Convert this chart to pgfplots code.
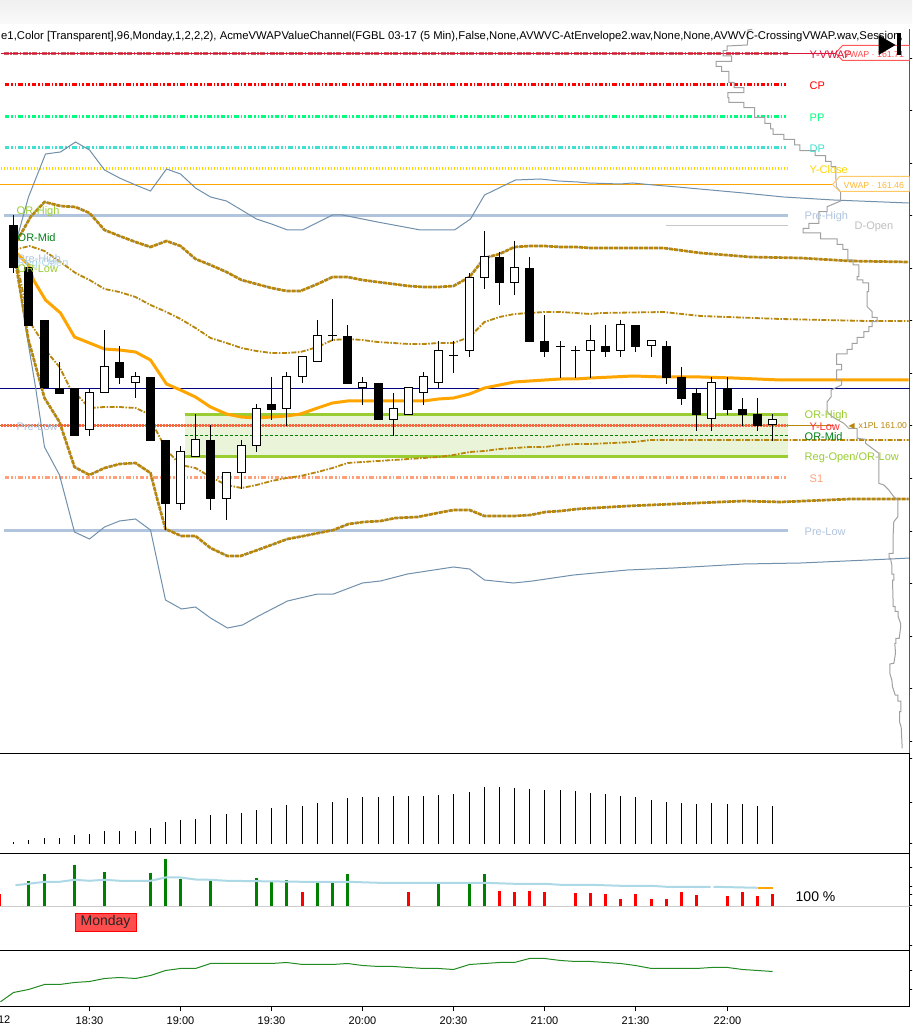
\documentclass[border=0pt]{standalone}
\usepackage{pgfplots}
\usepackage{pgfplotstable}
\usepackage{fontspec}
\pgfplotsset{compat=1.18}
\setmainfont{Liberation Sans}
\newfontfamily\dejavu{DejaVu Sans}
\definecolor{gold1}{HTML}{B8860B}
\definecolor{navy}{HTML}{000080}
\definecolor{steel}{HTML}{7090AC}
\definecolor{vwapo}{HTML}{FFA500}
\definecolor{lsteel}{HTML}{B0C4DE}
\definecolor{ygreen}{HTML}{9ACD32}
\definecolor{zone}{HTML}{EAF4D8}
\definecolor{dgreen}{HTML}{008000}
\definecolor{spring}{HTML}{00FF7F}
\definecolor{turq}{HTML}{40E0D0}
\definecolor{golden}{HTML}{FFD700}
\definecolor{tomato}{HTML}{FF6347}
\definecolor{salmon}{HTML}{FFA07A}
\definecolor{crim}{HTML}{DC143C}
\definecolor{indr}{HTML}{CD5C5C}
\definecolor{profile}{HTML}{A0A0A0}
\definecolor{lblue}{HTML}{ADD8E6}
\definecolor{fgreen}{HTML}{228B22}
\pgfplotstableread{
x wt wb bt bb
13 215 273 225 268
28 267 326 267 326
44 320 388 320 388
59 362 394 388 394
74 388 436 388 436
119 346 384 362 378
150 377 441 377 441
165 440 530 440 504
210 425 510 440 499
271 377 420 404 410
347 325 384 336 384
378 383 420 383 420
499 252 305 257 283
529 257 342 268 342
544 315 357 341 352
605 325 357 346 352
635 325 352 325 347
666 341 384 346 378
681 367 405 377 399
696 388 431 393 415
727 377 415 388 410
742 398 426 409 415
757 398 431 414 426
}\blackc
\pgfplotstableread{
x wt wb bt bb
89 388 436 393 430
104 330 393 367 393
135 372 398 377 383
180 446 510 451 503
195 414 456 440 456
226 472 520 472 498
241 440 489 446 472
256 404 452 409 446
286 372 426 377 409
302 357 383 357 377
317 320 362 336 362
332 299 341 336 336
362 377 405 383 388
393 393 436 409 420
408 388 415 388 415
423 372 405 377 393
438 341 388 351 383
453 341 373 356 356
469 273 357 278 351
484 231 289 257 278
514 241 295 268 283
560 341 378 347 347
575 346 378 351 351
590 325 378 341 351
620 320 357 325 351
651 341 357 341 346
711 377 431 383 419
772 414 441 420 425
}\whitec
\pgfplotstableread{
x y
13 250
18 233
28 197
45 154
60 152
75 142
89 150
104 170
119 178
135 185
150 191
166 169
180 174
195 188
210 197
226 201
241 210
256 219
271 224
287 230
302 230
332 215
342 215
377 222
420 230
454 230
470 219
484 195
515 180
540 179
558 181
577 182
588 183
620 184
632 183
653 185
677 187
743 193
783 197
833 200
908 203
}\steelup
\pgfplotstableread{
x y
13 250
18 280
25 327
35 387
44 447
59 475
74 532
89 539
104 527
119 521
135 519
150 530
165 600
181 609
195 607
210 618
227 628
242 625
258 616
287 601
317 594
333 594
362 583
380 581
407 574
453 567
469 569
484 580
513 583
532 581
573 575
627 570
673 568
743 564
800 563
890 559
909 558
}\steeldn
\pgfplotstableread{
x y
13 250
17 240
30 217
44 202
60 206
75 207
89 213
104 230
119 236
135 242
150 247
166 241
180 246
195 259
210 265
226 272
241 280
256 284
271 288
286 291
300 291
317 284
332 277
347 277
362 280
377 282
393 284
408 286
423 287
438 287
453 286
469 277
484 258
499 254
514 247
529 246
544 246
560 247
575 247
590 248
663 248
700 253
750 257
800 258
850 261
908 262
}\goldup
\pgfplotstableread{
x y
13 250
18 280
28 340
44 398
59 422
74 467
89 475
104 468
119 464
135 463
150 473
157 500
165 529
181 536
195 536
210 548
227 556
240 556
257 550
287 539
303 536
333 530
348 524
363 522
380 521
395 518
417 517
442 512
453 510
469 510
484 516
513 516
530 515
545 512
560 511
577 509
627 506
673 504
743 501
780 502
850 499
908 499
}\golddn
\begin{document}
\begin{tikzpicture}[x=1pt,y=1pt]
\clip[use as bounding box] (0,0) rectangle (912,1032);
\fill[white] (0,0) rectangle (912,1032);
\shade[top color=black!6,bottom color=black!2] (0,1008) rectangle (912,1032);
\tikzset{lb/.style={anchor=west,inner sep=0pt,font=\fontsize{11}{13}\selectfont}}
\begin{axis}[
  at={(-1pt,279pt)},anchor=south west,scale only axis,width=910.5pt,height=754pt,
  xmin=-1.5,xmax=909,ymin=-1,ymax=753,y dir=reverse,
  axis line style={draw=none},xtick=\empty,
  ytick={58,110.6,163,215.8,268,320.8,373,425.8,478.6,531,583.6,636,688.8,741},
  yticklabels={},ytick pos=right,ytick align=outside,
  major tick length=3pt,tick style={black,line width=0.8pt},
]
% OR zone
\addplot[fill=zone,draw=none] coordinates {(184,414)(787,414)(787,456.5)(184,456.5)} --cycle;
% levels
\addplot[indr,line width=2.5pt,dash pattern=on 5pt off 1.5pt on 1.5pt off 1.5pt] coordinates {(3,53.5)(787,53.5)};
\addplot[crim,line width=1pt] coordinates {(0,53.5)(835,53.5)};
\addplot[red,line width=2.5pt,dash pattern=on 4.5pt off 2pt on 1.5pt off 2pt on 1.5pt off 2pt] coordinates {(4,84.5)(787,84.5)};
\addplot[spring,line width=2.5pt,dash pattern=on 4.5pt off 2pt on 1.5pt off 2pt on 1.5pt off 2pt] coordinates {(4,116.5)(787,116.5)};
\addplot[turq,line width=2.5pt,dash pattern=on 4.5pt off 2pt on 1.5pt off 2pt on 1.5pt off 2pt] coordinates {(4,147.5)(787,147.5)};
\addplot[golden,line width=2.5pt,dash pattern=on 1.5pt off 1.5pt] coordinates {(0,168.5)(787,168.5)};
\addplot[vwapo,line width=1pt] coordinates {(-1,184.5)(832,184.5)};
\addplot[lsteel,line width=2.5pt] coordinates {(3,215.5)(787,215.5)};
\addplot[black!22,line width=1pt] coordinates {(665,225.5)(787,225.5)};
\addplot[navy,line width=1pt] coordinates {(-1,388.5)(909,388.5)};
\addplot[ygreen,line width=2.2pt] coordinates {(184,414.5)(787,414.5)};
\addplot[gold1,line width=1pt] coordinates {(-1,425.5)(833,425.5)};
\addplot[tomato,line width=2.5pt,dash pattern=on 2pt off 1pt] coordinates {(0,425.5)(787,425.5)};
\addplot[dgreen,line width=1pt,dash pattern=on 3pt off 2pt] coordinates {(184,435.5)(787,435.5)};
\addplot[ygreen,line width=2.2pt] coordinates {(184,456.5)(787,456.5)};
\addplot[salmon,line width=2.5pt,dash pattern=on 4.5pt off 2pt on 1.5pt off 2pt on 1.5pt off 2pt] coordinates {(4,477.5)(787,477.5)};
\addplot[lsteel,line width=2.5pt] coordinates {(3,530.5)(787,530.5)};
% channels
\addplot[steel,line width=1pt] table[x=x,y=y] {\steelup};
\addplot[steel,line width=1pt] table[x=x,y=y] {\steeldn};
\addplot[steel,line width=0.8pt] table[x=x,y=y] {\goldup};
\addplot[steel,line width=0.8pt] table[x=x,y=y] {\golddn};
\addplot[gold1,line width=2.7pt,dash pattern=on 4pt off 1pt] table[x=x,y=y] {\goldup};
\addplot[gold1,line width=2.7pt,dash pattern=on 4pt off 1pt] table[x=x,y=y] {\golddn};
\addplot[gold1,line width=1.8pt,dash pattern=on 5pt off 1.5pt on 1.5pt off 1.5pt] coordinates {
(13,250)(29,246)(44,251)(60,262)(75,273)(89,280)(104,289)(119,292)(135,297)(150,305)(166,312)(180,319)(195,328)(210,338)(226,343)(241,348)(256,351)(271,353)(286,353)(300,352)(317,347)(332,340)(347,339)(362,340)(377,342)(393,343)(408,344)(423,344)(438,343)(453,343)(469,337)(484,322)(499,317)(514,314)(529,313)(544,312)(560,312)(575,313)(590,314)(600,313)(663,312)(700,316)(780,319)(867,321)(908,321)};
\addplot[gold1,line width=1.8pt,dash pattern=on 5pt off 1.5pt on 1.5pt off 1.5pt] coordinates {
(13,250)(20,280)(28,320)(44,345)(49,355)(59,367)(69,387)(89,408)(104,407)(119,407)(135,408)(146,413)(157,433)(166,450)(180,465)(195,468)(210,477)(226,485)(241,488)(256,485)(271,481)(286,478)(300,476)(317,472)(332,468)(347,463)(362,462)(377,461)(393,460)(408,459)(423,458)(438,457)(453,455)(469,452)(484,451)(499,449)(514,448)(529,447)(544,447)(560,445)(575,444)(590,444)(633,442)(650,440)(683,440)(733,440)(787,440)(833,440)(908,440)};
\addplot[vwapo,line width=3pt] coordinates {
(13,250)(28,265)(33,280)(45,300)(60,313)(74,337)(89,343)(104,349)(119,350)(135,352)(150,360)(166,384)(180,390)(195,397)(210,407)(226,414)(241,417)(256,418)(271,417)(286,416)(300,414)(317,408)(332,403)(347,401)(362,401)(377,401)(393,401)(408,401)(423,401)(438,399)(453,398)(469,394)(484,388)(499,385)(514,382)(529,381)(544,380)(560,379)(575,379)(590,378)(633,376)(663,377)(700,377)(733,378)(780,380)(833,380)(908,380)};
% candles
\addplot[draw=none,no marks,error bars/.cd,y dir=plus,y explicit,error mark=none,error bar style={black,line width=1pt}]
  table[x=x,y=wt,y error plus expr={\thisrow{wb}-\thisrow{wt}}] {\blackc};
\addplot[draw=none,no marks,error bars/.cd,y dir=plus,y explicit,error mark=none,error bar style={black,line width=1pt}]
  table[x=x,y=wt,y error plus expr={\thisrow{wb}-\thisrow{wt}}] {\whitec};
\addplot[draw=none,no marks,error bars/.cd,y dir=plus,y explicit,error mark=none,error bar style={black,line width=9pt}]
  table[x=x,y=bt,y error plus expr={\thisrow{bb}-\thisrow{bt}}] {\blackc};
\addplot[draw=none,no marks,error bars/.cd,y dir=plus,y explicit,error mark=none,error bar style={black,line width=9pt}]
  table[x=x,y expr={\thisrow{bt}-0.5},y error plus expr={\thisrow{bb}-\thisrow{bt}+1}] {\whitec};
\addplot[draw=none,no marks,error bars/.cd,y dir=plus,y explicit,error mark=none,error bar style={white,line width=7pt}]
  table[x=x,y expr={\thisrow{bt}+0.5},y error plus expr={max(\thisrow{bb}-\thisrow{bt}-1,0)}] {\whitec};
% volume profile
\addplot[profile,line width=1pt] coordinates {
(751.7,29.3)(747.3,30)(747.3,40)(746.7,45)(726.7,46)(726.7,50.7)(722.7,50.7)(722.7,56)(731,56)(731,61.3)(715.7,61.3)(715.7,66.3)(721,66.3)(721,71.3)(728.3,71.3)(728.3,82.3)(733.7,82.3)(733.7,87.7)(743.3,87.7)(743.3,92.7)(727.3,92.7)(727.3,97.7)(728.3,97.7)(728.3,102.3)(743.3,102.3)(743.3,107.7)(754,107.7)(754,117.3)(764.3,117.3)(764.3,123.3)(770,123.3)(770,129)(772.7,129)(772.7,134.3)(783.3,134.3)(783.3,139.3)(794,139.3)(794,145)(799.3,145)(799.3,150.7)(814.7,150.7)(814.7,155.7)(825,155.7)(825,161.3)(830.7,161.3)(830.7,166.7)(835.3,166.7)(835.3,176.7)(836,186.7)(840,191.7)(840,201)(826.7,206.7)(826.7,211.7)(818.3,211.7)(818.3,223.3)(808.3,223.3)(808.3,228.3)(802.7,228.3)(802.7,233)(820,233)(820,239)(836.7,239)(836.7,244.3)(842.3,244.3)(842.3,249.3)(847.3,249.3)(847.3,260)(852.7,260)(852.7,265)(858.3,265)(858.3,276.7)(856.7,276.7)(856.7,280)(862.3,280)(862.3,283)(868,283)(868,291.7)(866.7,291.7)(866.7,306.7)(871.7,311.7)(871.7,317.3)(876.7,317.3)(876.7,321.7)(871.7,321.7)(871.7,326.7)(868.3,326.7)(868.3,331.7)(863.3,331.7)(863.3,337.3)(856.7,337.3)(856.7,343.3)(851.7,343.3)(851.7,349.3)(846.7,349.3)(846.7,354)(836,354)(836,364.3)(841,364.3)(841,370)(836,370)(836,380)(841,380)(841,385)(830.7,390)(830.7,396.7)(826.7,401.7)(826.7,411.7)(831.7,416.7)(843.3,423.3)(848.3,428.3)(856.7,428.3)(856.7,438.3)(865,439.3)(865,443.3)(871.7,448.3)(878.3,453.3)(878.3,483.3)(883.3,485)(888.3,490)(893.3,496.7)(897.3,500)(897.3,516.7)(893.3,521.7)(892.7,533.3)(892.7,553.3)(888.7,553.3)(888.7,558.3)(890,558.3)(891.3,565)(891.3,574)(893.3,574)(893.3,580)(892,580)(892.7,606.7)(894.7,606.7)(894.7,611.3)(897.7,611.3)(897.7,616.7)(900,623.3)(900,628.3)(898.7,638.3)(895.3,638.3)(895.3,643.3)(894.3,643.3)(895,653.3)(893.3,663.3)(889.3,664)(889.3,673.3)(891.3,680)(892,686.7)(894.7,695)(897.3,695)(897.3,701)(900.3,701)(900.3,711.7)(899,711.7)(899,721.7)(900.7,727.3)(901.7,748.3)};
% right frame
\addplot[black,line width=1pt] coordinates {(909,29)(909,753)};
% price tags
\addplot[fill=white,fill opacity=0.3,draw=vwapo!60,line width=1pt] coordinates {(832,184.5)(839,176.5)(909,176.5)(909,191.5)(839,191.5)} --cycle;
\addplot[draw=red!65,line width=1pt] coordinates {(835,53)(842,45.5)(909,45.5)(909,60.5)(842,60.5)} --cycle;
% texts
\node[lb,text=black] at (axis cs:0.5,37) {\fontsize{11.3}{13}\selectfont e1,Color [Transparent],96,Monday,1,2,2,2), AcmeVWAPValueChannel(FGBL 03-17 (5 Min),False,None,AVWVC-AtEnvelope2.wav,None,None,AVWVC-CrossingVWAP.wav,Session,};
\node[lb,text=crim] at (axis cs:809,55) {Y-VWAP};
\node[lb,text=red!70,font=\fontsize{8.8}{12}\selectfont] at (axis cs:843,54) {VWAP · 161.71};
\node[lb,text=vwapo!80,font=\fontsize{8.8}{12}\selectfont] at (axis cs:843,185) {VWAP · 161.46};
\node[lb,text=red] at (axis cs:809,86) {CP};
\node[lb,text=spring] at (axis cs:809,118) {PP};
\node[lb,text=turq] at (axis cs:809,149) {DP};
\node[lb,text=golden] at (axis cs:809,170) {Y-Close};
\node[lb,text=lsteel] at (axis cs:804,217) {Pre-High};
\node[lb,text=black!25] at (axis cs:854,227) {D-Open};
\node[lb,text=ygreen] at (axis cs:804,416) {OR-High};
\node[lb,text=red!80] at (axis cs:809,427) {Y-Low};
\node[lb,text=dgreen!80!teal] at (axis cs:804,437) {OR-Mid};
\node[lb,text=ygreen] at (axis cs:804,458) {Reg-Open/OR-Low};
\node[lb,text=salmon] at (axis cs:809,479) {S1};
\node[lb,text=lsteel] at (axis cs:804,532) {Pre-Low};
\node[lb,text=ygreen] at (axis cs:16,212) {OR-High};
\node[lb,text=dgreen!80!teal] at (axis cs:17,238) {OR-Mid};
\node[lb,text=lsteel] at (axis cs:17,260) {Pre-High};
\node[lb,text=lblue] at (axis cs:17,264) {Reg-Open};
\node[lb,text=ygreen] at (axis cs:17,269) {OR-Low};
\node[lb,text=lsteel] at (axis cs:16,427) {Pre-Low};
\node[lb,text=gold1,font=\fontsize{8}{10}\selectfont\dejavu] at (axis cs:848,426) {◀};
\node[lb,text=gold1,font=\fontsize{8.6}{12}\selectfont] at (axis cs:858,426) {x1PL 161.00};
% player icon
\addplot[fill=black,draw=none] coordinates {(878,35)(895,45)(878,55)} --cycle;
\addplot[fill=black,draw=none] coordinates {(896,33)(900,33)(900,55)(896,55)} --cycle;
\end{axis}
% volume panel
\begin{axis}[
  at={(-1pt,178.5pt)},anchor=south west,scale only axis,width=910.5pt,height=100pt,
  xmin=-1.5,xmax=909,ymin=-9.5,ymax=90.5,
  axis line style={line width=1pt},xtick=\empty,
  ytick={86,42,1},yticklabels={},ytick pos=right,ytick align=outside,
  major tick length=3pt,tick style={black,line width=0.8pt},
]
\addplot[ycomb,black,line width=1pt,mark=none] coordinates {
(13,2)(28,4)(44,6)(59,6)(74,9)(89,10)(104,13)(119,13)(135,13)(150,16)(165,22)(180,24)(195,25)(210,29)(226,30)(241,31)(256,34)(271,36)(286,39)(302,38)(317,41)(332,42)(347,46)(362,47)(378,47)(393,48)(408,48)(423,48)(438,49)(453,50)(469,52)(484,57)(499,57)(514,56)(529,55)(544,54)(560,54)(575,53)(590,51)(605,50)(620,48)(635,47)(651,44)(666,42)(681,41)(696,40)(711,41)(727,40)(742,40)(757,38)(772,38)};
\end{axis}
% delta panel
\begin{axis}[
  at={(-1pt,81.5pt)},anchor=south west,scale only axis,width=910.5pt,height=97pt,
  xmin=-1.5,xmax=909,ymin=-44,ymax=53,
  axis line style={line width=1pt},xtick=\empty,
  ytick={39,20,12,1,-39},yticklabels={},ytick pos=right,ytick align=outside,
  major tick length=3pt,tick style={black,line width=0.8pt},
]
\addplot[black!20,line width=1pt] coordinates {(-1.5,0)(909,0)};
\addplot[ycomb,dgreen,line width=3pt,mark=none] coordinates {
(28,25)(44,32)(74,41)(104,34)(150,33)(165,47)(180,27)(210,26)(256,28)(271,24)(286,26)(317,25)(332,24)(347,32)(438,23)(469,24)(484,32)};
\addplot[ycomb,red,line width=3pt,mark=none] coordinates {
(-1,12)(302,14)(408,14)(499,15)(514,14)(529,15)(544,14)(575,13)(590,13)(605,12)(620,7)(635,12)(651,7)(666,7)(681,14)(696,11)(727,10)(742,14)(757,10)(772,12)};
\addplot[lblue,line width=2pt] coordinates {
(15,21.3)(28,22.7)(44,24.7)(59,24.7)(74,26.7)(89,25.7)(104,26.7)(119,25.7)(150,25.7)(165,29)(180,29)(195,27)(210,26.7)(226,25.7)(302,24.7)(347,24.7)(378,23.7)(469,23.7)(484,23.7)(514,22.7)(544,22.7)(560,21.7)(590,21.7)(620,20.7)(651,20.7)(666,19.7)(710,19.7)};
\addplot[lblue,line width=2pt] coordinates {(713,19.7)(757,18.7)};
\addplot[vwapo,line width=2pt] coordinates {(757,18.7)(772,18.7)};
\node[anchor=west,inner sep=0pt,font=\fontsize{14}{16}\selectfont] at (axis cs:795,9.5) {100 \%};
\node[anchor=center,draw=red,fill=red!70,inner sep=0pt,minimum width=61pt,minimum height=18pt,font=\fontsize{14}{16}\selectfont,text=black!85] at (axis cs:105,-15.5) {\raisebox{-1pt}{Monday}};
\end{axis}
% bottom panel
\begin{axis}[
  at={(-1pt,25.5pt)},anchor=south west,scale only axis,width=910.5pt,height=56pt,
  xmin=-1.5,xmax=909,ymin=0,ymax=56,clip=false,
  axis line style={line width=1pt},
  xtick={89,180,271,362,453,544,635,727},
  xticklabels={18:30,19:00,19:30,20:00,20:30,21:00,21:30,22:00},
  xtick pos=bottom,xtick align=outside,
  xticklabel style={font=\fontsize{11}{13}\selectfont,inner sep=0pt,yshift=-5.5pt},
  ytick={36,17},yticklabels={},ytick pos=right,ytick align=outside,
  major tick length=5pt,tick style={black,line width=0.8pt},
]
\addplot[fgreen,line width=1pt] coordinates {
(0,4.7)(13,14)(28,17)(44,22)(59,22)(74,24)(89,25)(104,28)(119,29)(135,28)(150,31)(165,36)(180,38)(195,38)(210,43)(226,43)(241,43)(256,43)(271,43)(286,44)(302,42)(317,42)(332,42)(347,43)(362,41)(378,40)(393,40)(408,39)(423,38)(438,38)(453,37)(469,42)(484,43)(499,44)(514,44)(529,48)(544,48)(560,46)(575,45)(590,45)(605,44)(620,43)(635,41)(651,38)(666,38)(681,38)(696,38)(711,39)(727,39)(742,37)(757,36)(772,35)};
\node[anchor=east,inner sep=0pt,font=\fontsize{11}{13}\selectfont] at (axis cs:10,-13) {12};
\end{axis}
\end{tikzpicture}
\end{document}
